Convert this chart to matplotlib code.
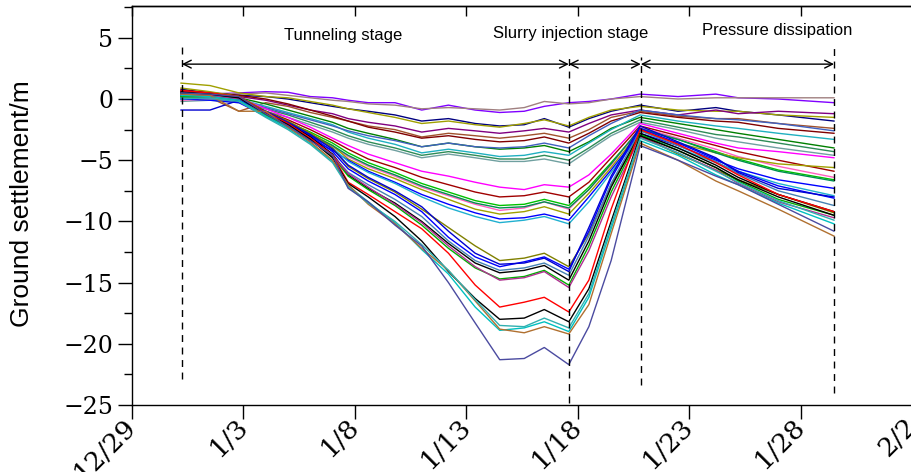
import matplotlib.pyplot as plt
from matplotlib.ticker import MultipleLocator
from matplotlib.transforms import ScaledTranslation

# days counted from 12/29
days = [2.2, 3.5, 4.8, 6, 7, 8, 9, 9.7, 10.6, 11.8, 13, 14.2, 15.4, 16.5,
        17.6, 18.5, 19.6, 20.5, 21.5, 22.8, 24.5, 26.2, 27.2, 29, 31.5]

x_ticks = [0, 5, 10, 15, 20, 25, 30, 35]
x_labels = ['12/29', '1/3', '1/8', '1/13', '1/18', '1/23', '1/28', '2/2']
y_ticks = [-25, -20, -15, -10, -5, 0, 5]

stage_bounds = [2.24, 19.6, 22.83, 31.5]
stage_names = ['Tunneling stage', 'Slurry injection stage', 'Pressure dissipation']
stage_text_x = [9.46, 19.7, 28.97]
stage_text_y = [5.2, 5.35, 5.6]

# upper cluster, small settlement
shallow = [
    [0.3, 0.4, 0.5, 0.6, 0.55, 0.2, 0.1, -0.1, -0.3, -0.3, -0.9, -0.5, -0.9, -1.1, -1.0, -0.6, -0.3, -0.2, 0.0, 0.4, 0.2, 0.4, 0.1, 0.0, -0.3],
    [0.6, 0.5, 0.4, 0.5, 0.3, 0.1, -0.1, -0.2, -0.4, -0.5, -0.8, -0.7, -0.8, -0.9, -0.7, -0.2, -0.4, -0.3, 0.0, 0.2, 0.0, 0.1, 0.1, 0.1, 0.1],
    [0.8, 0.5, 0.3, 0.2, 0.0, -0.3, -0.6, -0.8, -1.0, -1.3, -1.8, -1.6, -2.0, -2.2, -2.1, -1.6, -2.3, -1.6, -1.0, -0.5, -1.0, -0.7, -1.0, -1.3, -1.8],
    [1.3, 1.1, 0.5, 0.2, 0.1, -0.2, -0.5, -0.8, -1.1, -1.5, -2.0, -1.8, -2.1, -2.3, -2.0, -1.7, -2.2, -1.5, -0.9, -0.6, -0.9, -1.0, -1.0, -1.3, -1.5],
    [0.4, 0.3, 0.2, -0.1, -0.5, -0.9, -1.2, -1.6, -1.9, -2.2, -2.7, -2.4, -2.6, -2.8, -2.6, -2.4, -2.7, -2.0, -1.3, -0.9, -1.3, -0.9, -1.2, -1.0, -1.2],
    [0.2, 0.1, -1.0, -0.3, -0.6, -1.1, -1.5, -1.8, -2.2, -2.5, -3.1, -2.8, -3.0, -3.2, -3.0, -2.8, -3.2, -2.5, -1.5, -1.0, -1.4, -1.6, -1.6, -2.0, -2.4],
    [0.7, 0.5, 0.3, 0.0, -0.4, -0.9, -1.4, -1.8, -2.3, -2.7, -3.2, -3.0, -3.3, -3.5, -3.4, -3.1, -3.6, -2.8, -1.8, -1.1, -1.5, -1.8, -1.9, -2.4, -2.8],
    [0.5, 0.3, 0.1, -0.4, -0.9, -1.4, -1.9, -2.4, -2.8, -3.3, -3.9, -3.6, -3.9, -4.1, -4.0, -3.8, -4.3, -3.5, -2.4, -1.5, -2.0, -2.5, -2.8, -3.3, -4.0],
    [0.3, 0.2, 0.0, -0.6, -1.1, -1.6, -2.1, -2.7, -3.2, -3.7, -4.4, -4.1, -4.4, -4.7, -4.6, -4.3, -4.6, -3.6, -2.5, -1.3, -1.8, -2.2, -2.4, -2.8, -3.3],
    [0.1, 0.0, -0.2, -0.8, -1.3, -1.9, -2.5, -3.0, -3.5, -4.0, -4.6, -4.3, -4.6, -4.9, -4.9, -4.6, -5.0, -4.0, -2.8, -1.7, -2.3, -2.9, -3.1, -3.6, -4.3],
    [-0.2, -0.1, -0.3, -1.0, -1.5, -2.1, -2.7, -3.2, -3.7, -4.2, -4.8, -4.5, -4.8, -5.1, -5.1, -4.9, -5.3, -4.2, -3.0, -1.9, -2.5, -3.2, -3.5, -4.0, -4.6],
    [0.0, 0.1, -0.1, -0.7, -1.2, -1.7, -2.2, -2.6, -3.0, -3.4, -3.9, -3.6, -3.9, -4.0, -3.9, -3.6, -4.0, -3.0, -2.0, -0.9, -1.3, -1.6, -1.7, -2.0, -2.6],
]
shallow_colors = ['#8000ff', '#a08080', '#000080', '#a0a000', '#800080', '#a0522d',
                  '#800000', '#008000', '#20b0c0', '#2e8b57', '#70a0a0', '#4060c0']

# middle cluster
middle = [
    [0.6, 0.4, 0.1, -0.8, -1.5, -2.3, -3.2, -3.8, -4.5, -5.2, -5.9, -6.3, -6.8, -7.2, -7.4, -7.0, -7.2, -6.2, -4.5, -2.0, -2.8, -3.6, -4.0, -4.3, -4.8],
    [0.4, 0.3, 0.0, -1.0, -1.7, -2.5, -3.4, -4.1, -4.9, -5.6, -6.4, -7.0, -7.6, -8.0, -7.9, -7.6, -8.0, -6.8, -4.8, -2.2, -3.0, -3.8, -4.3, -5.0, -5.9],
    [0.2, 0.2, -0.1, -1.1, -1.9, -2.7, -3.6, -4.4, -5.2, -6.0, -6.9, -7.6, -8.3, -8.7, -8.6, -8.2, -8.7, -7.2, -5.2, -2.5, -3.3, -4.3, -4.9, -5.8, -6.6],
    [-0.1, 0.0, -0.2, -1.3, -2.1, -2.9, -3.9, -4.7, -5.5, -6.3, -7.2, -7.9, -8.6, -9.1, -8.9, -8.4, -9.0, -7.4, -5.4, -2.3, -3.2, -4.1, -4.7, -5.5, -6.4],
    [0.9, 0.6, 0.2, -1.0, -1.9, -2.8, -3.8, -4.9, -5.7, -6.5, -7.4, -8.2, -9.0, -9.4, -9.2, -8.8, -9.4, -7.7, -5.6, -2.6, -3.6, -4.4, -4.8, -5.3, -5.6],
    [0.0, -0.1, -0.3, -1.4, -2.3, -3.2, -4.2, -5.0, -5.9, -6.8, -7.8, -8.6, -9.3, -9.8, -9.7, -9.4, -9.9, -8.0, -5.8, -2.8, -3.8, -5.0, -5.7, -6.6, -7.3],
    [0.3, 0.2, 0.0, -1.2, -2.1, -3.0, -4.0, -5.1, -6.0, -6.9, -8.0, -8.9, -9.6, -10.1, -9.9, -9.6, -10.2, -8.4, -6.0, -2.9, -4.0, -5.2, -5.9, -6.9, -7.9],
    [0.5, 0.3, 0.1, -1.1, -2.0, -2.9, -3.8, -4.6, -5.4, -6.2, -7.1, -7.8, -8.5, -8.9, -8.8, -8.4, -8.9, -7.4, -5.3, -2.4, -3.3, -4.4, -5.0, -5.9, -6.7],
]
middle_colors = ['#ff00ff', '#a00000', '#00c000', '#ff60c0', '#a0a000', '#0000ff', '#20b0d0', '#009050']

# deep cluster
deep = [
    [0.5, 0.4, 0.2, -1.0, -1.8, -2.8, -4.0, -5.5, -6.5, -7.6, -9.0, -10.5, -12.0, -13.2, -13.0, -12.6, -13.7, -11.0, -7.0, -3.0, -4.5, -5.8, -6.6, -7.8, -9.3],
    [0.3, 0.2, 0.0, -1.2, -2.0, -3.0, -4.3, -5.7, -6.7, -7.8, -9.2, -11.3, -12.9, -13.7, -13.3, -12.9, -13.9, -10.8, -6.5, -2.4, -3.6, -4.9, -5.9, -7.1, -8.1],
    [0.1, 0.0, -0.2, -1.4, -2.3, -3.3, -4.6, -6.0, -7.0, -8.2, -9.6, -11.6, -13.2, -14.0, -13.8, -13.4, -14.4, -11.2, -6.9, -2.6, -3.8, -5.1, -6.1, -7.5, -8.7],
    [0.6, 0.4, 0.1, -1.1, -2.0, -3.1, -4.5, -6.2, -7.3, -8.5, -10.0, -11.8, -13.4, -14.2, -14.0, -13.6, -14.8, -11.6, -7.2, -2.8, -4.0, -5.4, -6.4, -7.8, -9.2],
    [0.2, 0.2, -0.1, -1.3, -2.2, -3.3, -4.7, -6.3, -7.4, -8.7, -10.3, -12.2, -13.8, -14.7, -14.5, -14.0, -15.2, -12.0, -7.6, -2.9, -4.2, -5.6, -6.7, -8.2, -9.5],
    [0.4, 0.3, 0.0, -1.2, -2.1, -3.2, -4.6, -6.1, -7.2, -8.6, -10.1, -12.0, -13.7, -14.8, -14.6, -14.1, -15.4, -12.4, -8.0, -3.1, -4.4, -5.8, -6.9, -8.4, -9.7],
    [-0.9, -0.9, -0.1, -1.0, -1.9, -2.9, -4.1, -5.4, -6.4, -7.5, -8.8, -10.8, -12.6, -13.5, -13.4, -13.0, -14.1, -10.5, -6.3, -2.2, -3.5, -4.8, -6.0, -7.3, -8.0],
]
deep_colors = ['#808000', '#0000ff', '#4682b4', '#000000', '#00b000', '#b03090', '#0000d0']

# deepest cluster
deepest = [
    [0.7, 0.5, 0.2, -1.1, -2.0, -3.2, -4.6, -6.8, -7.8, -9.2, -10.6, -12.6, -15.2, -17.0, -16.6, -16.2, -17.4, -14.8, -9.0, -2.5, -3.7, -5.2, -6.2, -7.8, -9.2],
    [0.5, 0.4, 0.1, -1.2, -2.1, -3.3, -4.8, -6.9, -8.0, -9.6, -11.6, -14.1, -16.3, -18.0, -17.9, -17.2, -18.2, -15.5, -10.0, -3.0, -4.2, -5.6, -6.6, -8.0, -9.5],
    [0.3, 0.2, -0.1, -1.4, -2.4, -3.6, -5.1, -7.1, -8.4, -10.1, -12.3, -14.3, -17.0, -18.9, -18.7, -18.2, -19.0, -16.2, -10.6, -3.4, -4.6, -6.2, -7.0, -8.5, -10.2],
    [0.4, 0.3, -1.0, -1.0, -2.3, -3.5, -5.0, -7.0, -8.6, -10.2, -12.2, -14.0, -16.5, -18.8, -19.1, -18.6, -19.2, -16.8, -11.0, -3.6, -5.0, -6.7, -7.5, -9.0, -11.2],
    [0.0, 0.1, -0.2, -1.5, -2.5, -3.7, -5.2, -7.2, -8.5, -10.0, -11.9, -14.0, -16.4, -18.5, -18.6, -17.9, -18.7, -15.9, -10.3, -3.2, -4.4, -5.9, -6.8, -8.3, -9.9],
    [0.5, 0.4, 0.2, -1.2, -2.2, -3.4, -4.6, -7.3, -8.4, -10.3, -12.0, -15.0, -18.3, -21.3, -21.2, -20.3, -21.7, -18.6, -13.2, -3.8, -5.0, -6.3, -7.0, -8.6, -10.8],
]
deepest_colors = ['#ff0000', '#000000', '#00c0c0', '#b07030', '#30b0b0', '#4b4ba0']

plt.rcParams['axes.linewidth'] = 1.0

fig = plt.figure(figsize=(9.12, 4.72), dpi=100)
ax = fig.add_axes([132 / 912, 67 / 472, 780 / 912, 399 / 472])

for group, colors in [(shallow, shallow_colors), (middle, middle_colors),
                      (deep, deep_colors), (deepest, deepest_colors)]:
    for vals, c in zip(group, colors):
        ax.plot(days, vals, color=c, lw=1.0)

# stage markers
dash_tops = [4.6, 3.4, 3.4, 4.2]
dash_bottoms = [-22.9, -24.8, -23.4, -24.0]
for xb, yt, yb in zip(stage_bounds, dash_tops, dash_bottoms):
    ax.plot([xb, xb], [yb, yt], color='black', lw=1.0, ls=(0, (5, 4)))

for a, b in zip(stage_bounds[:-1], stage_bounds[1:]):
    ax.annotate('', xy=(b, 2.85), xytext=(a, 2.85),
                arrowprops=dict(arrowstyle='<->', lw=1.0, color='black',
                                shrinkA=0, shrinkB=0, mutation_scale=14))

for name, tx, ty in zip(stage_names, stage_text_x, stage_text_y):
    ax.text(tx, ty, name, ha='center', va='center', fontsize=12,
            family='Liberation Sans')

ax.set_xlim(0, 35)
ax.set_ylim(-25, 7.6)
ax.set_xticks(x_ticks)
ax.set_xticklabels(x_labels, rotation=45, ha='right', va='center',
                   rotation_mode='anchor', family='DejaVu Serif', fontsize=19)
shift = ScaledTranslation(-3 / 100, 0, fig.dpi_scale_trans)
for lab in ax.get_xticklabels():
    lab.set_transform(lab.get_transform() + shift)
ax.set_yticks(y_ticks)
ax.yaxis.set_minor_locator(MultipleLocator(2.5))
for lab in ax.get_yticklabels():
    lab.set_family('DejaVu Serif')
    lab.set_fontsize(17)
ax.tick_params(axis='both', which='major', direction='out', length=10, width=1)
ax.tick_params(axis='y', which='minor', direction='out', length=6, width=1)
ax.tick_params(axis='x', pad=2)
ax.spines['right'].set_visible(False)

top = ax.secondary_xaxis('top')
top.set_xticks(x_ticks)
top.tick_params(direction='in', length=7, width=1, labeltop=False)

fig.text(22 / 912, 1 - 204 / 472, 'Ground settlement/m', rotation=90,
         ha='center', va='center', fontsize=19, family='Liberation Sans')

fig.savefig('out.png', dpi=100)
